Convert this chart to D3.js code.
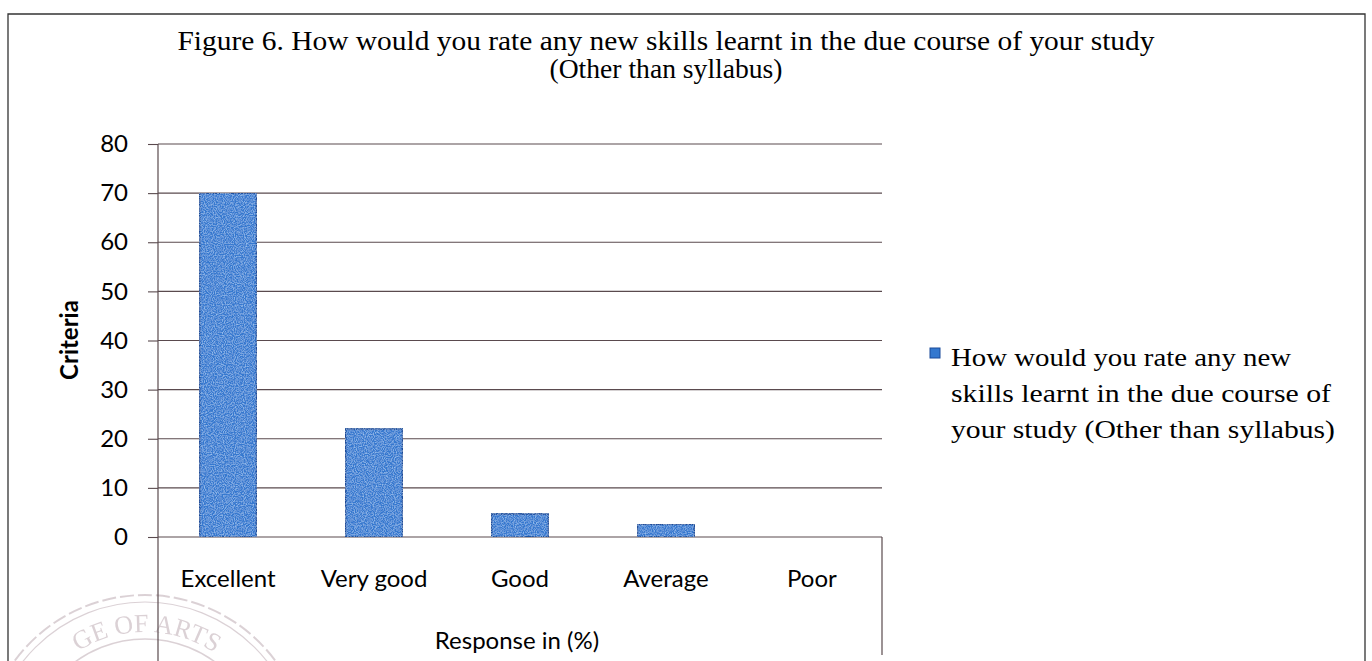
<!DOCTYPE html>
<html><head><meta charset="utf-8">
<script src="https://cdn.jsdelivr.net/npm/d3@7"></script>
<style>html,body{margin:0;padding:0;background:#fff;}svg{display:block;}</style>
</head><body>
<script>
const categories = ["Excellent", "Very good", "Good", "Average", "Poor"];
const values = [70, 22, 4.7, 2.6, 0];
const yTicks = [0, 10, 20, 30, 40, 50, 60, 70, 80];
const titleLines = ["Figure 6. How would you rate any new skills learnt in the due course of your study", "(Other than syllabus)"];
const legendLines = ["How would you rate any new", "skills learnt in the due course of", "your study (Other than syllabus)"];
const xTitle = "Response in (%)";
const yTitle = "Criteria";

const W = 1372, H = 661;
const svg = d3.select("body").append("svg").attr("width", W).attr("height", H);
const defs = svg.append("defs");
const filt = defs.append("filter").attr("id", "grain").attr("x", 0).attr("y", 0).attr("width", 1).attr("height", 1);
filt.append("feTurbulence").attr("type", "fractalNoise").attr("baseFrequency", 0.9).attr("numOctaves", 2).attr("seed", 3).attr("result", "n");
filt.append("feColorMatrix").attr("in", "n").attr("type", "matrix")
  .attr("values", "0 0 0 0 0.5  0 0 0 0 0.75  0 0 0 0 1  0 0 0 1.2 -0.45").attr("result", "spk");
filt.append("feComposite").attr("in", "spk").attr("in2", "SourceGraphic").attr("operator", "in").attr("result", "spk2");
const fm = filt.append("feMerge");
fm.append("feMergeNode").attr("in", "SourceGraphic");
fm.append("feMergeNode").attr("in", "spk2");

const lineCol = "#5a4a4e";
// outer frame
svg.append("path").attr("d", `M8,${H} V14 H1365 V${H}`).attr("fill", "none").attr("stroke", "#333").attr("stroke-width", 1.3);

// faint stamp
const stamp = svg.append("g").attr("opacity", 0.3).attr("fill", "none").attr("stroke", "#8a6a78");
stamp.append("circle").attr("cx", 145).attr("cy", 757).attr("r", 162).attr("stroke-width", 2).attr("stroke-dasharray", "14 4");
stamp.append("circle").attr("cx", 145).attr("cy", 757).attr("r", 155).attr("stroke-width", 1.2);
stamp.append("circle").attr("cx", 145).attr("cy", 757).attr("r", 118).attr("stroke-width", 1.5);
defs.append("path").attr("id", "stampArc").attr("d", "M 20,757 A 125,125 0 0 1 270,757");
stamp.append("text").attr("fill", "#8a6a78").attr("stroke", "none").attr("font-family", "Liberation Serif").attr("font-size", 26)
  .append("textPath").attr("href", "#stampArc").attr("startOffset", "32%").text("GE OF ARTS");

const x0 = 158, x1 = 882, yTop = 144, yBase = 537;
const x = d3.scaleBand().domain(categories).range([x0, x1]).paddingInner(0.61).paddingOuter(0.285);
const y = d3.scaleLinear().domain([0, 80]).range([yBase, yTop]);

// gridlines
svg.append("g").selectAll("line").data(yTicks).join("line")
  .attr("x1", x0).attr("x2", x1).attr("y1", d => y(d)).attr("y2", d => y(d))
  .attr("stroke", lineCol).attr("stroke-width", 1.1);

// bars
svg.append("g").selectAll("rect").data(categories.map((c, i) => ({c, v: values[i]})).filter(d => d.v > 0)).join("rect")
  .attr("x", d => x(d.c)).attr("width", x.bandwidth())
  .attr("y", d => y(d.v)).attr("height", d => yBase - y(d.v))
  .attr("fill", "#3478cf").attr("stroke", "#1a4b9a").attr("stroke-width", 1.6).attr("filter", "url(#grain)");

// y axis
const yAxis = svg.append("g").attr("transform", `translate(${x0},0)`)
  .call(d3.axisLeft(y).tickValues(yTicks).tickSize(10).tickPadding(20));
yAxis.select(".domain").remove();
yAxis.selectAll(".tick line").attr("stroke", lineCol).attr("stroke-width", 1.1);
yAxis.selectAll(".tick text").attr("font-family", "Lato, 'Open Sans', sans-serif").attr("font-size", 24).attr("fill", "#000");
// axis line extends down to bottom
svg.append("line").attr("x1", x0).attr("x2", x0).attr("y1", yTop).attr("y2", H).attr("stroke", lineCol).attr("stroke-width", 1.2);
svg.append("line").attr("x1", x1).attr("x2", x1).attr("y1", yBase).attr("y2", 655).attr("stroke", lineCol).attr("stroke-width", 1.2);

// x labels
svg.append("g").selectAll("text").data(categories).join("text")
  .attr("x", d => x(d) + x.bandwidth() / 2).attr("y", 587)
  .attr("text-anchor", "middle").attr("font-family", "Lato, 'Open Sans', sans-serif").attr("font-size", 24).attr("fill", "#000")
  .text(d => d);

svg.append("text").attr("x", 517).attr("y", 649).attr("text-anchor", "middle")
  .attr("font-family", "Lato, 'Open Sans', sans-serif").attr("font-size", 24).attr("fill", "#000").text(xTitle);

svg.append("text").attr("transform", "translate(78,340) rotate(-90)").attr("text-anchor", "middle")
  .attr("font-family", "Lato, 'Open Sans', sans-serif").attr("font-weight", "bold").attr("font-size", 24).attr("fill", "#000").text(yTitle);

// title
const tl = svg.append("g");
tl.append("text").attr("x", 666).attr("y", 50).attr("text-anchor", "middle")
  .attr("font-family", "'Liberation Serif', serif").attr("font-size", 27).attr("fill", "#000")
  .attr("textLength", 977).attr("lengthAdjust", "spacingAndGlyphs").text(titleLines[0]);
tl.append("text").attr("x", 666).attr("y", 78).attr("text-anchor", "middle")
  .attr("font-family", "'Liberation Serif', serif").attr("font-size", 27).attr("fill", "#000")
  .attr("textLength", 233).attr("lengthAdjust", "spacingAndGlyphs").text(titleLines[1]);

// legend
svg.append("rect").attr("x", 930).attr("y", 348).attr("width", 10).attr("height", 10)
  .attr("fill", "#3478cf").attr("stroke", "#1a4b9a").attr("stroke-width", 1);
const legLens = [340, 380, 384];
svg.append("g").selectAll("text").data(legendLines).join("text")
  .attr("x", 951).attr("y", (d, i) => 366 + i * 36)
  .attr("font-family", "'Liberation Serif', serif").attr("font-size", 26).attr("fill", "#000")
  .attr("textLength", (d, i) => legLens[i]).attr("lengthAdjust", "spacingAndGlyphs")
  .text(d => d);
</script>
</body></html>
